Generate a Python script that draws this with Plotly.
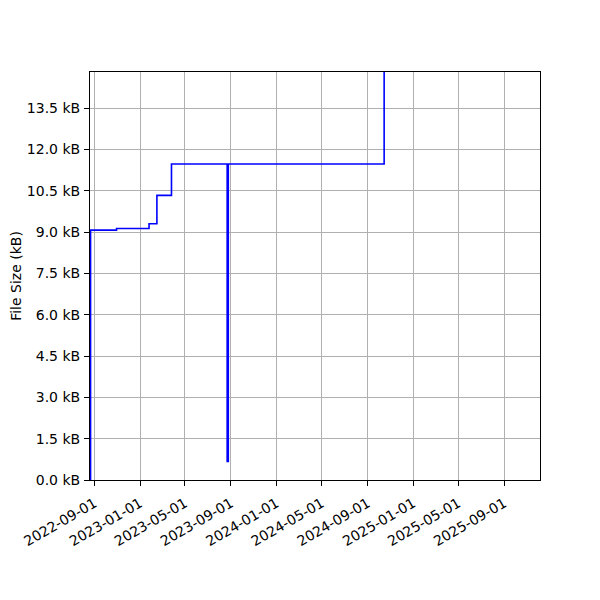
import plotly.graph_objects as go

# Data
dates = ["2022-08-20", "2022-08-21 12:00", "2022-10-30", "2023-01-25", "2023-02-15",
         "2023-03-26", "2023-08-22", "2023-08-25", "2024-10-15"]
sizes_kb = [0.0, 9.07, 9.13, 9.30, 10.33, 11.47, 0.67, 11.47, 20.0]

y_tick_vals = [0.0, 1.5, 3.0, 4.5, 6.0, 7.5, 9.0, 10.5, 12.0, 13.5]
y_tick_text = [f"{v:.1f} kB" for v in y_tick_vals]
x_tick_vals = ["2022-09-01", "2023-01-01", "2023-05-01", "2023-09-01", "2024-01-01",
               "2024-05-01", "2024-09-01", "2025-01-01", "2025-05-01", "2025-09-01"]

fig = go.Figure()
fig.add_trace(go.Scatter(
    x=dates, y=sizes_kb, mode="lines", line_shape="hv",
    line=dict(color="#0000ff", width=1.6), showlegend=False,
))

axis_common = dict(
    showgrid=True, gridcolor="#b0b0b0", gridwidth=1,
    showline=True, linecolor="black", linewidth=1, mirror=True,
    ticks="outside", ticklen=5, tickwidth=1, tickcolor="black",
    zeroline=False, automargin=False, layer="above traces",
    tickfont=dict(family="DejaVu Sans", size=14, color="black"),
)

fig.update_xaxes(
    type="date", range=["2022-08-20", "2025-12-06"],
    tickvals=x_tick_vals, ticktext=x_tick_vals, tickangle=-30,
    ticklabelstandoff=4,
    **axis_common,
)
fig.update_yaxes(
    range=[0, 14.81], tickvals=y_tick_vals, ticktext=y_tick_text,
    ticklabelstandoff=1,
    title=dict(text="File Size (kB)", font=dict(family="DejaVu Sans", size=14, color="black"), standoff=6),
    **axis_common,
)

fig.update_layout(
    width=600, height=600,
    margin=dict(l=82, r=68, t=64, b=128),
    plot_bgcolor="white", paper_bgcolor="white",
    font=dict(family="DejaVu Sans", size=14, color="black"),
)

fig.write_html("out.html")
